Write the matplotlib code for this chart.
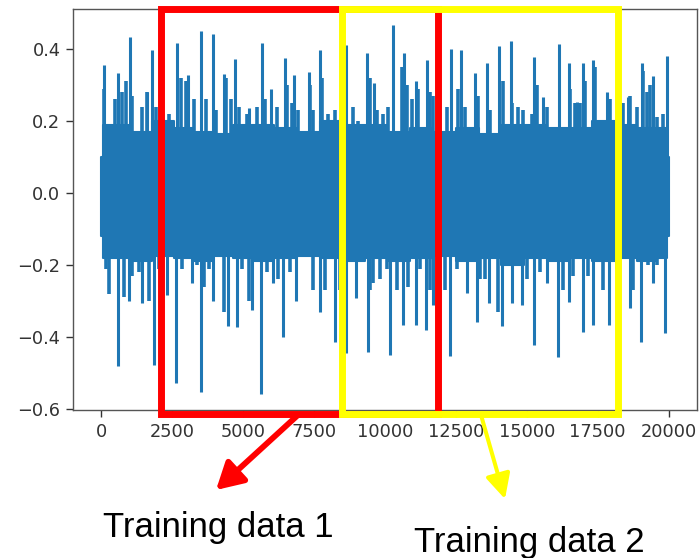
import matplotlib
matplotlib.use("Agg")
import matplotlib.pyplot as plt
from matplotlib.patches import Rectangle

# ---- signal (sample index vs amplitude) ----
# tall upward spikes: position, peak value
up_x = [106, 600, 1024, 1600, 1800, 2680, 3070, 3530, 3920, 4340, 4730, 5220,
        5650, 6000, 6460, 6810, 7310, 7700, 8610, 9350, 9630, 10270, 10660,
        11110, 11470, 12320, 12670, 13170, 13590, 14020, 14440, 15240, 15560,
        16130, 16480, 16760, 16980, 17330, 17830, 18570, 19060, 19450, 19950]
up_y = [0.356, 0.333, 0.433, 0.28, 0.397, 0.417, 0.328, 0.45, 0.44, 0.33,
        0.372, 0.236, 0.417, 0.29, 0.375, 0.328, 0.336, 0.397, 0.41, 0.39,
        0.305, 0.465, 0.39, 0.31, 0.37, 0.40, 0.397, 0.333, 0.36, 0.408,
        0.422, 0.378, 0.267, 0.413, 0.36, 0.253, 0.36, 0.37, 0.28, 0.267,
        0.36, 0.325, 0.38]

# smaller upward spikes along the top of the band
mid_up_x = [106, 494, 741, 883, 1094, 1447, 1624, 1942, 2400, 2824, 3001,
            3283, 3707, 4060, 4413, 4589, 4871, 5119, 5472, 5754, 6178, 6531,
            6707, 6919, 7342, 7448, 7766, 7978, 8225, 8860, 9037, 9460, 9708,
            9919, 10096, 10590, 10767, 10943, 11155, 11578, 11684, 12179,
            12567, 12814, 13273, 13696, 14155, 14473, 14685, 14861, 15179,
            15356, 15709, 16520, 16697, 16873, 17050, 17403, 17932, 18391,
            18638, 18886, 19097, 19239, 19344, 19591, 19803]
mid_up_y = [0.29, 0.26, 0.28, 0.31, 0.27, 0.24, 0.28, 0.24, 0.22, 0.32, 0.31,
            0.26, 0.26, 0.23, 0.32, 0.26, 0.24, 0.22, 0.24, 0.26, 0.24, 0.30,
            0.25, 0.23, 0.30, 0.23, 0.32, 0.22, 0.23, 0.24, 0.20, 0.32, 0.23,
            0.22, 0.24, 0.35, 0.30, 0.26, 0.29, 0.28, 0.27, 0.24,
            0.29, 0.24, 0.27, 0.23, 0.31, 0.25, 0.24, 0.23, 0.22,
            0.30, 0.24, 0.29, 0.25, 0.25, 0.31, 0.35, 0.26, 0.25,
            0.27, 0.24, 0.34, 0.28, 0.30, 0.21, 0.22]

# deep downward spikes: position, trough value
down_x = [570, 960, 1450, 1840, 2330, 2650, 3210, 3500, 3920, 4450, 4770,
          5330, 5620, 6040, 6420, 6850, 7700, 8240, 8610, 8990, 9390, 10170,
          10630, 11110, 11440, 11680, 12280, 12880, 13240, 13670, 14130,
          14480, 14840, 15240, 15700, 16090, 16480, 16970, 17330, 17900,
          18640, 19020, 19450, 19860]
down_y = [-0.48, -0.30, -0.305, -0.478, -0.283, -0.528, -0.25, -0.553, -0.30,
          -0.37, -0.372, -0.325, -0.558, -0.25, -0.40, -0.30, -0.33, -0.413,
          -0.444, -0.292, -0.442, -0.45, -0.367, -0.367, -0.38, -0.31,
          -0.453, -0.278, -0.358, -0.306, -0.37, -0.306, -0.31, -0.422,
          -0.25, -0.456, -0.303, -0.386, -0.367, -0.367, -0.32, -0.413,
          -0.25, -0.39]

# smaller downward spikes along the bottom of the band
mid_dn_x = [176, 282, 812, 1094, 1341, 1694, 2047, 2859, 3389, 3636, 3812,
            4342, 4977, 5224, 5825, 6213, 6636, 7448, 7872, 8401, 9460, 9566,
            9813, 10061, 10414, 10802, 11225, 11578, 12108, 12532, 13343,
            13520, 13979, 15003, 15461, 16273, 16626, 17156, 17685, 18180,
            18745, 19274, 19591]
mid_dn_y = [-0.21, -0.28, -0.29, -0.23, -0.22, -0.30, -0.21, -0.21, -0.20,
            -0.26, -0.21, -0.33, -0.21, -0.30, -0.22, -0.24, -0.22, -0.27,
            -0.27, -0.27, -0.27, -0.25, -0.24, -0.21, -0.27, -0.26, -0.21,
            -0.27, -0.27, -0.21, -0.24, -0.24, -0.33, -0.24, -0.22, -0.27,
            -0.23, -0.23, -0.27, -0.21, -0.27, -0.20, -0.20]

# dense core of the signal: upper and lower edge along the record
band_x = [0, 100, 700, 1400, 2200, 2900, 3600, 4300, 5000, 5700, 6500, 7300,
          8100, 8900, 9700, 10500, 11300, 12100, 12900, 13700, 14500, 15300,
          16100, 16900, 17700, 18500, 19300, 19900, 20000]
band_top = [0.10, 0.19, 0.19, 0.17, 0.20, 0.18, 0.17, 0.165, 0.19, 0.19,
            0.18, 0.17, 0.20, 0.19, 0.19, 0.17, 0.18, 0.17, 0.18, 0.165,
            0.19, 0.19, 0.18, 0.18, 0.20, 0.19, 0.18, 0.18, 0.10]
band_bot = [-0.12, -0.18, -0.18, -0.19, -0.175, -0.18, -0.19, -0.175, -0.18,
            -0.19, -0.18, -0.175, -0.18, -0.19, -0.18, -0.19, -0.18, -0.175,
            -0.19, -0.18, -0.20, -0.18, -0.19, -0.18, -0.19, -0.18, -0.19,
            -0.18, -0.12]

x_ticks = [0, 2500, 5000, 7500, 10000, 12500, 15000, 17500, 20000]
y_ticks = [-0.6, -0.4, -0.2, 0.0, 0.2, 0.4]

label_1 = "Training data 1"
label_2 = "Training data 2"

BLUE = "#1f77b4"
RED = "#ff0000"
YELLOW = "#ffff00"

fig = plt.figure(figsize=(6.99, 5.58), dpi=100)
ax = fig.add_axes([0.1044, 0.265, 0.8926, 0.719])

ax.fill_between(band_x, band_bot, band_top, color=BLUE, lw=1.5, step="mid")
ax.vlines(mid_up_x, 0, mid_up_y, color=BLUE, lw=2.6)
ax.vlines(mid_dn_x, mid_dn_y, 0, color=BLUE, lw=2.6)
ax.vlines(up_x, 0, up_y, color=BLUE, lw=2.2)
ax.vlines(down_x, down_y, 0, color=BLUE, lw=2.2)

ax.set_xlim(-1000, 21000)
ax.set_ylim(-0.603, 0.511)
ax.set_xticks(x_ticks)
ax.set_xticklabels([str(t) for t in x_ticks])
ax.set_yticks(y_ticks)
ax.set_yticklabels([f"{t:.1f}".replace("-", "\u2212") for t in y_ticks])
ax.tick_params(labelsize=12.8, colors="#333333", length=5, width=1, pad=4)
for s in ax.spines.values():
    s.set_color("#555555")
    s.set_linewidth(1.0)

# highlighted windows (yellow sits on top of red)
ax.add_patch(Rectangle((2118, -0.614), 11860 - 2118, 0.511 + 0.614,
                       fill=False, ec=RED, lw=5, clip_on=False, zorder=5))
ax.add_patch(Rectangle((8472, -0.614), 18215 - 8472, 0.511 + 0.614,
                       fill=False, ec=YELLOW, lw=5, clip_on=False, zorder=6))


def px(x, y):
    return (x / 699, 1 - y / 558)


fig.add_artist(plt.Annotation("", xy=px(216, 490), xytext=px(298, 415),
                              xycoords="figure fraction",
                              textcoords="figure fraction",
                              arrowprops=dict(arrowstyle="-|>,head_length=1.6,head_width=0.9",
                                              color=RED, lw=4.2, shrinkA=0, shrinkB=0)))
fig.add_artist(plt.Annotation("", xy=px(505, 499), xytext=px(481, 415),
                              xycoords="figure fraction",
                              textcoords="figure fraction",
                              arrowprops=dict(arrowstyle="-|>,head_length=1.5,head_width=0.75",
                                              color=YELLOW, lw=2.9, shrinkA=0, shrinkB=0)))

font = ["Liberation Sans", "DejaVu Sans"]
fig.text(*px(218, 537), label_1, ha="center", va="baseline", fontsize=25,
         family=font, color="black")
fig.text(*px(529, 552), label_2, ha="center", va="baseline", fontsize=25,
         family=font, color="black")

fig.savefig("out.png", dpi=100)
